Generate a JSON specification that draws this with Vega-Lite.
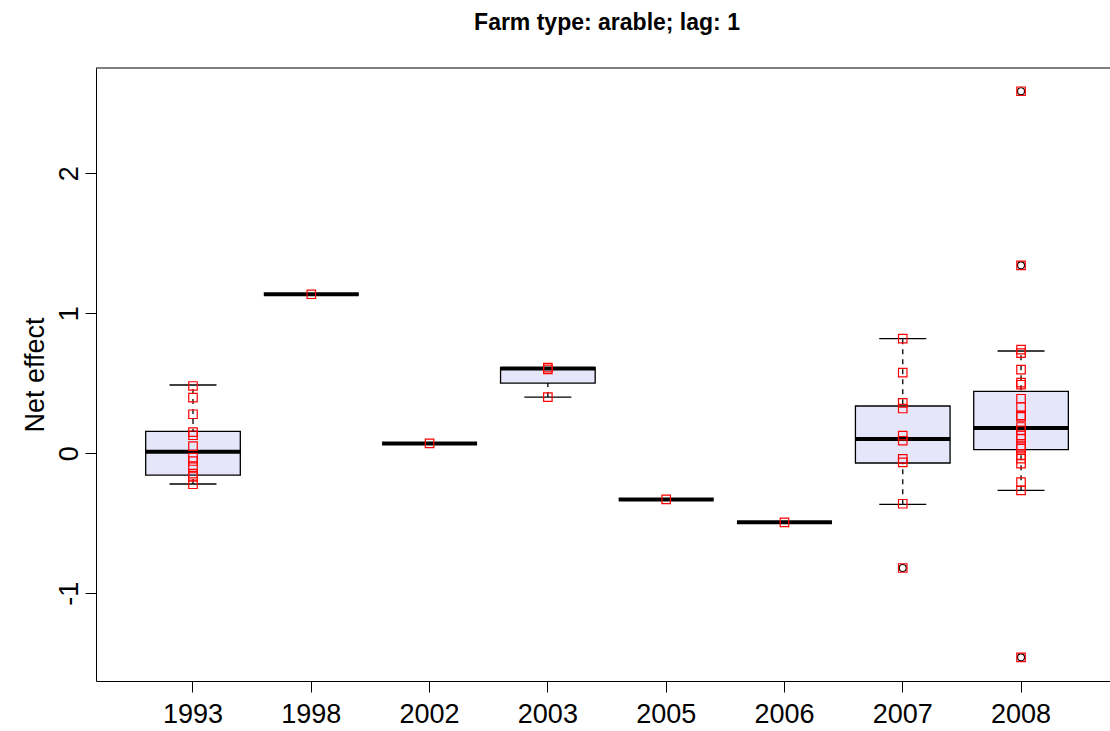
{
  "$schema": "https://vega.github.io/schema/vega-lite/v6.json",
  "autosize": {"type": "none"},
  "padding": {"left": 96, "top": 68, "right": 0, "bottom": 50},
  "width": 1014,
  "height": 613,
  "title": {"text": "Farm type: arable; lag: 1", "font": "Liberation Sans", "fontSize": 23, "fontWeight": "bold", "color": "black", "anchor": "middle", "frame": "group", "baseline": "alphabetic", "offset": 15, "dx": 4},
  "config": {
    "view": {"stroke": null},
    "axis": {"labelFont": "Liberation Sans", "titleFont": "Liberation Sans", "labelColor": "black", "titleColor": "black", "domainColor": "black", "tickColor": "black", "domainWidth": 1, "tickWidth": 1, "grid": false, "labelFontSize": 27, "titleFontSize": 27, "titleFontWeight": "normal", "tickSize": 11}
  },
  "datasets": {
    "summary": [
      {"year": "1993", "lo": -0.219, "q1": -0.155, "med": 0.012, "q3": 0.157, "hi": 0.488},
      {"year": "1998", "lo": 1.136, "q1": 1.136, "med": 1.136, "q3": 1.136, "hi": 1.136},
      {"year": "2002", "lo": 0.071, "q1": 0.071, "med": 0.071, "q3": 0.071, "hi": 0.071},
      {"year": "2003", "lo": 0.402, "q1": 0.502, "med": 0.605, "q3": 0.612, "hi": 0.612},
      {"year": "2005", "lo": -0.329, "q1": -0.329, "med": -0.329, "q3": -0.329, "hi": -0.329},
      {"year": "2006", "lo": -0.493, "q1": -0.493, "med": -0.493, "q3": -0.493, "hi": -0.493},
      {"year": "2007", "lo": -0.364, "q1": -0.069, "med": 0.102, "q3": 0.338, "hi": 0.819},
      {"year": "2008", "lo": -0.264, "q1": 0.026, "med": 0.181, "q3": 0.443, "hi": 0.731}
    ],
    "points": [
      {"year": "1993", "value": 0.481, "outlier": false},
      {"year": "1993", "value": 0.398, "outlier": false},
      {"year": "1993", "value": 0.279, "outlier": false},
      {"year": "1993", "value": 0.152, "outlier": false},
      {"year": "1993", "value": 0.129, "outlier": false},
      {"year": "1993", "value": 0.052, "outlier": false},
      {"year": "1993", "value": -0.031, "outlier": false},
      {"year": "1993", "value": -0.055, "outlier": false},
      {"year": "1993", "value": -0.098, "outlier": false},
      {"year": "1993", "value": -0.145, "outlier": false},
      {"year": "1993", "value": -0.169, "outlier": false},
      {"year": "1993", "value": -0.221, "outlier": false},
      {"year": "1998", "value": 1.136, "outlier": false},
      {"year": "2002", "value": 0.071, "outlier": false},
      {"year": "2003", "value": 0.612, "outlier": false},
      {"year": "2003", "value": 0.600, "outlier": false},
      {"year": "2003", "value": 0.402, "outlier": false},
      {"year": "2005", "value": -0.329, "outlier": false},
      {"year": "2006", "value": -0.493, "outlier": false},
      {"year": "2007", "value": 0.819, "outlier": false},
      {"year": "2007", "value": 0.576, "outlier": false},
      {"year": "2007", "value": 0.360, "outlier": false},
      {"year": "2007", "value": 0.320, "outlier": false},
      {"year": "2007", "value": 0.127, "outlier": false},
      {"year": "2007", "value": 0.090, "outlier": false},
      {"year": "2007", "value": -0.040, "outlier": false},
      {"year": "2007", "value": -0.065, "outlier": false},
      {"year": "2007", "value": -0.360, "outlier": false},
      {"year": "2007", "value": -0.819, "outlier": true},
      {"year": "2008", "value": 2.586, "outlier": true},
      {"year": "2008", "value": 1.343, "outlier": true},
      {"year": "2008", "value": 0.741, "outlier": false},
      {"year": "2008", "value": 0.716, "outlier": false},
      {"year": "2008", "value": 0.598, "outlier": false},
      {"year": "2008", "value": 0.505, "outlier": false},
      {"year": "2008", "value": 0.490, "outlier": false},
      {"year": "2008", "value": 0.390, "outlier": false},
      {"year": "2008", "value": 0.331, "outlier": false},
      {"year": "2008", "value": 0.271, "outlier": false},
      {"year": "2008", "value": 0.260, "outlier": false},
      {"year": "2008", "value": 0.188, "outlier": false},
      {"year": "2008", "value": 0.164, "outlier": false},
      {"year": "2008", "value": 0.129, "outlier": false},
      {"year": "2008", "value": 0.105, "outlier": false},
      {"year": "2008", "value": 0.057, "outlier": false},
      {"year": "2008", "value": 0.034, "outlier": false},
      {"year": "2008", "value": -0.014, "outlier": false},
      {"year": "2008", "value": -0.038, "outlier": false},
      {"year": "2008", "value": -0.074, "outlier": false},
      {"year": "2008", "value": -0.205, "outlier": false},
      {"year": "2008", "value": -0.264, "outlier": false},
      {"year": "2008", "value": -1.457, "outlier": true}
    ]
  },
  "encoding": {
    "x": {"field": "year", "type": "ordinal", "title": null,
      "scale": {"domain": ["1993", "1998", "2002", "2003", "2005", "2006", "2007", "2008"], "paddingInner": 0.2, "paddingOuter": 0.386, "align": 0.544},
      "axis": {"labelAngle": 0, "labelPadding": 9, "labelBaseline": "top"}}
  },
  "layer": [
    {
      "data": {"name": "summary"},
      "mark": {"type": "rule", "color": "black", "strokeWidth": 1.3, "strokeDash": [5, 5]},
      "encoding": {
        "y": {"field": "lo", "type": "quantitative", "title": "Net effect",
          "scale": {"domain": [-1.626, 2.752], "nice": false, "zero": false},
          "axis": {"values": [-1, 0, 1, 2], "labelExpr": "'' + datum.value", "labelAngle": 270, "labelAlign": "center", "labelBaseline": "alphabetic", "labelPadding": 8, "titleAngle": 270, "titleBaseline": "alphabetic", "titleX": -53}},
        "y2": {"field": "hi"}
      }
    },
    {
      "data": {"name": "summary"},
      "mark": {"type": "bar", "fill": "#E6E6FA", "stroke": "black", "strokeWidth": 1.3},
      "encoding": {
        "y": {"field": "q1", "type": "quantitative", "title": "Net effect"},
        "y2": {"field": "q3"}
      }
    },
    {
      "data": {"name": "summary"},
      "mark": {"type": "tick", "color": "black", "size": 47, "thickness": 1.3, "opacity": 1},
      "encoding": {
        "y": {"field": "lo", "type": "quantitative", "title": "Net effect"}
      }
    },
    {
      "data": {"name": "summary"},
      "mark": {"type": "tick", "color": "black", "size": 47, "thickness": 1.3, "opacity": 1},
      "encoding": {
        "y": {"field": "hi", "type": "quantitative", "title": "Net effect"}
      }
    },
    {
      "data": {"name": "summary"},
      "mark": {"type": "tick", "color": "black", "size": 95, "thickness": 4, "opacity": 1},
      "encoding": {
        "y": {"field": "med", "type": "quantitative", "title": "Net effect"}
      }
    },
    {
      "data": {"name": "points"},
      "transform": [{"filter": "datum.outlier"}],
      "mark": {"type": "point", "shape": "circle", "filled": false, "color": "black", "size": 49, "strokeWidth": 1.2, "opacity": 1},
      "encoding": {
        "y": {"field": "value", "type": "quantitative", "title": "Net effect"}
      }
    },
    {
      "data": {"name": "points"},
      "mark": {"type": "point", "shape": "square", "filled": false, "color": "red", "size": 72, "strokeWidth": 1.2, "opacity": 1},
      "encoding": {
        "y": {"field": "value", "type": "quantitative", "title": "Net effect"}
      }
    },
    {
      "data": {"values": [{"edge": "top"}]},
      "mark": {"type": "rule", "color": "black", "strokeWidth": 1},
      "encoding": {
        "x": null,
        "y": {"datum": 2.752}
      }
    }
  ]
}
